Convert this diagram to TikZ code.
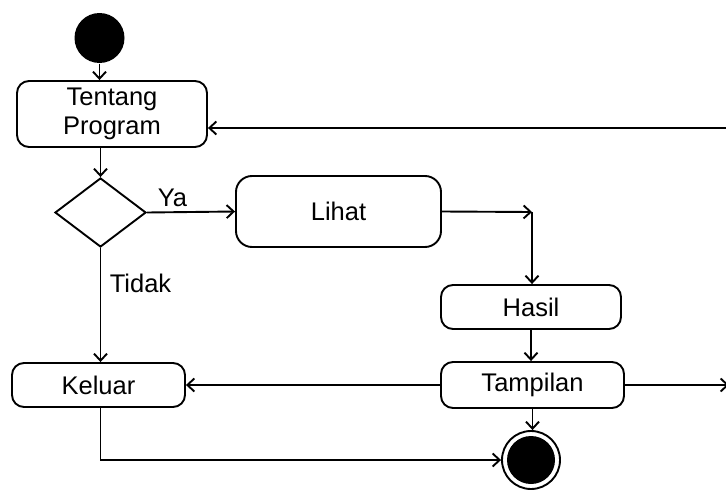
\documentclass[tikz,border=0pt]{standalone}
\usepackage{fontspec}
\setmainfont{Liberation Sans}
\usetikzlibrary{arrows.meta,positioning,shapes.geometric}
\tikzset{
	aktivitas/.style={draw, rounded corners=12pt, inner sep=0pt, font=\fontsize{25.5}{29}\selectfont, align=center, fill=white},
	mulai/.style={circle, fill=black, minimum size=50pt, inner sep=0pt},
	akhir/.style={circle, draw, minimum size=58pt, inner sep=0pt, path picture={\fill (path picture bounding box.center) circle (24pt);}},
	keputusan/.style={diamond, draw, minimum width=91pt, minimum height=69pt, inner sep=0pt},
	alur/.style={-{Straight Barb[length=7pt,width=13pt]}},
	label/.style={font=\fontsize{25.5}{29}\selectfont}
}

\begin{document}
\begin{tikzpicture}[x=1pt, y=-1pt, line width=1.9pt]
	\useasboundingbox (0,0) rectangle (726,490);
	
	\node[mulai] (start) at (99.5,38) {};
	\node[aktivitas, minimum width=190pt, minimum height=66pt] (tentang) at (112,114) {Tentang\\Program};
	\node[keputusan] (pilih) at (100.5,212.5) {};
	\node[aktivitas, minimum width=205pt, minimum height=71pt, rounded corners=16pt] (lihat) at (338.5,211.5) {Lihat};
	\node[aktivitas, minimum width=180pt, minimum height=44pt] (hasil) at (531,307) {Hasil};
	\node[aktivitas, minimum width=183pt, minimum height=46pt] (tampilan) at (532.5,385) {Tampilan};
	\node[aktivitas, minimum width=173pt, minimum height=44pt] (keluar) at (98.5,385) {Keluar};
	\node[akhir] (selesai) at (531,460) {};
	
	\coordinate (belok) at (532,212);
	\coordinate (kanan) at (729,385);
	\coordinate (kembali) at (726,128);
	
	\draw[alur] (start) -- (start |- tentang.north);
	\draw[alur] (pilih.north |- tentang.south) -- (pilih.north);
	\draw[alur] (pilih.east) -- node[label, pos=0.29, above=1pt] {Ya} (lihat.west);
	\draw[alur] (pilih.south) -- node[label, pos=0.31, right=5pt] {Tidak} (pilih.south |- keluar.north);
	\draw[alur] (lihat.east) -- (belok);
	\draw[alur] (belok) -- (belok |- hasil.north);
	\draw[alur] (hasil) -- (hasil |- tampilan.north);
	\draw[alur] (tampilan) -- (tampilan |- selesai.north);
	\draw[alur] (tampilan.west) -- (keluar.east);
	\draw[alur] (tampilan.east) -- (kanan);
	\draw[alur] (pilih.south |- keluar.south) -- (pilih.south |- selesai.west) -- (selesai.west);
	\draw[alur] (kembali) -- (kembali -| tentang.east);
	
\end{tikzpicture}
\end{document}
